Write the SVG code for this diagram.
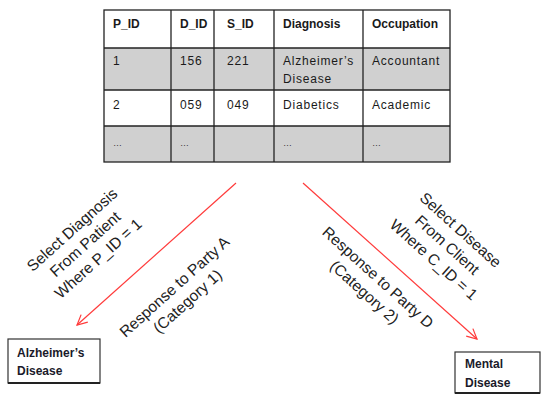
<svg xmlns="http://www.w3.org/2000/svg" width="541" height="397" viewBox="0 0 541 397">
  <style>
    .cell { font-family: "Liberation Sans", Arial, sans-serif; font-size: 12px; fill: #1a1a1a; letter-spacing: 0.8px; }
    .head { font-family: "Liberation Sans", Arial, sans-serif; font-size: 12px; font-weight: bold; fill: #1a1a1a; }
    .dots { font-family: "Liberation Sans", Arial, sans-serif; font-size: 9px; fill: #333; }
    .grid { stroke: #222; stroke-width: 1.3; fill: none; }
    .shade { fill: #d0d0d0; }
    .box { fill: #fff; stroke: #333; stroke-width: 1.2; }
    .boxtext { font-family: "Liberation Sans", Arial, sans-serif; font-size: 12px; font-weight: bold; fill: #1a1a2a; }
    .note { font-family: "Liberation Sans", Arial, sans-serif; font-size: 15.5px; fill: #222; text-anchor: middle; }
    .link { stroke: #ff3b3b; stroke-width: 1.2; fill: none; }
  </style>
  <defs>
    <marker id="vhead" viewBox="0 0 12 12" refX="11" refY="6" markerWidth="12" markerHeight="12" markerUnits="userSpaceOnUse" orient="auto">
      <path d="M1,1 L11,6 L1,11" fill="none" stroke="#ff3b3b" stroke-width="1.2"/>
    </marker>
  </defs>

  <rect width="541" height="397" fill="#fff"/>

  <!-- patient table -->
  <g id="patient-table">
    <rect class="shade" x="104" y="48" width="346" height="42"/>
    <rect class="shade" x="104" y="126" width="346" height="36"/>
    <rect class="grid" x="104" y="10" width="346" height="152"/>
    <line class="grid" x1="104" y1="48" x2="450" y2="48"/>
    <line class="grid" x1="104" y1="90" x2="450" y2="90"/>
    <line class="grid" x1="104" y1="126" x2="450" y2="126"/>
    <line class="grid" x1="171" y1="10" x2="171" y2="162"/>
    <line class="grid" x1="214" y1="10" x2="214" y2="162"/>
    <line class="grid" x1="274" y1="10" x2="274" y2="162"/>
    <line class="grid" x1="363" y1="10" x2="363" y2="162"/>

    <text class="head" x="113" y="28">P_ID</text>
    <text class="head" x="180" y="28">D_ID</text>
    <text class="head" x="227" y="28">S_ID</text>
    <text class="head" x="283" y="28">Diagnosis</text>
    <text class="head" x="372" y="28">Occupation</text>

    <text class="cell" x="113" y="65">1</text>
    <text class="cell" x="180" y="65">156</text>
    <text class="cell" x="227" y="65">221</text>
    <text class="cell" x="283" y="65">Alzheimer’s</text>
    <text class="cell" x="283" y="83">Disease</text>
    <text class="cell" x="372" y="65">Accountant</text>

    <text class="cell" x="113" y="109">2</text>
    <text class="cell" x="180" y="109">059</text>
    <text class="cell" x="227" y="109">049</text>
    <text class="cell" x="283" y="109">Diabetics</text>
    <text class="cell" x="372" y="109">Academic</text>

    <text class="dots" x="113" y="146">…</text>
    <text class="dots" x="180" y="146">…</text>
    <text class="dots" x="283" y="146">…</text>
    <text class="dots" x="372" y="146">…</text>
  </g>

  <!-- result boxes -->
  <g id="result-alzheimers">
    <rect class="box" x="8" y="339" width="92" height="44"/>
    <line x1="8" y1="383" x2="100" y2="383" stroke="#222" stroke-width="2"/>
    <text class="boxtext" x="17" y="357">Alzheimer’s</text>
    <text class="boxtext" x="17" y="375">Disease</text>
  </g>
  <g id="result-mental">
    <rect class="box" x="455" y="352" width="85" height="41"/>
    <line x1="455" y1="393" x2="540" y2="393" stroke="#222" stroke-width="2"/>
    <text class="boxtext" x="465" y="368">Mental</text>
    <text class="boxtext" x="465" y="387">Disease</text>
  </g>

  <!-- connectors -->
  <g id="connectors">
    <line class="link" x1="236" y1="183" x2="77" y2="325" marker-end="url(#vhead)"/>
    <line class="link" x1="303" y1="183" x2="477" y2="339" marker-end="url(#vhead)"/>
  </g>

  <!-- query and response labels -->
  <g id="label-query-a" transform="translate(85,244) rotate(-42)">
    <text class="note" x="0" y="-14">Select Diagnosis</text>
    <text class="note" x="0" y="5.5">From Patient</text>
    <text class="note" x="0" y="25">Where P_ID = 1</text>
  </g>
  <g id="label-response-a" transform="translate(181,294) rotate(-42)">
    <text class="note" x="0" y="-4.5">Response to Party A</text>
    <text class="note" x="0" y="15">(Category 1)</text>
  </g>
  <g id="label-query-d" transform="translate(447,245) rotate(42)">
    <text class="note" x="0" y="-15">Select Disease</text>
    <text class="note" x="0" y="5">From Client</text>
    <text class="note" x="0" y="25">Where C_ID = 1</text>
  </g>
  <g id="label-response-d" transform="translate(371,285) rotate(42)">
    <text class="note" x="0" y="-5">Response to Party D</text>
    <text class="note" x="0" y="15">(Category 2)</text>
  </g>
</svg>
